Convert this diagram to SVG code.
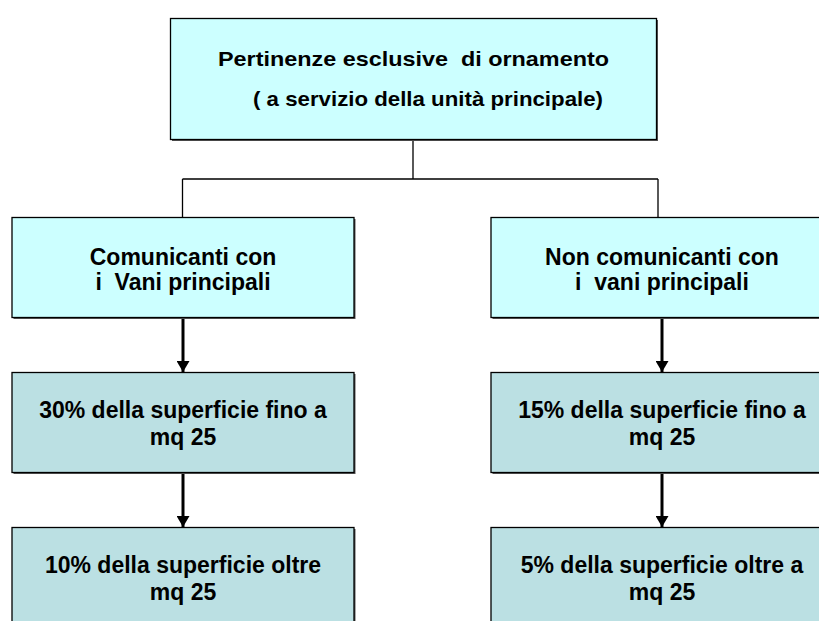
<svg xmlns="http://www.w3.org/2000/svg" width="819" height="621" viewBox="0 0 819 621">
<defs>
<style>
.box{stroke:#000;stroke-width:1.3}
.top{fill:#CCFFFF}
.low{fill:#BBE0E3}
.sh{fill:#555}
.t{font-family:"Liberation Sans",Arial,sans-serif;font-weight:bold;fill:#000;text-anchor:middle}
.t1{font-size:21px}
.t2{font-size:23px}
.ln{stroke:#000;stroke-width:1.3;fill:none}
.ar{stroke:#000;stroke-width:3;fill:none}
</style>
<marker id="ah" markerWidth="13" markerHeight="13" refX="11" refY="6.5" orient="auto" markerUnits="userSpaceOnUse">
<path d="M0,0 L11,6.5 L0,13 Z" fill="#000"/>
</marker>
</defs>
<rect width="819" height="621" fill="#fff"/>
<g id="connectors">
<path class="ln" d="M413,139 V179 M182.5,179 H658 M182.5,179 V217 M658,179 V217"/>
<path class="ar" d="M183,318 V372" marker-end="url(#ah)"/>
<path class="ar" d="M183,472 V527" marker-end="url(#ah)"/>
<path class="ar" d="M662,318 V372" marker-end="url(#ah)"/>
<path class="ar" d="M662,472 V527" marker-end="url(#ah)"/>
</g>
<g id="n-top">
<rect class="sh" x="172" y="20" width="486" height="121"/>
<rect class="box top" x="170.5" y="18.5" width="486" height="121"/>
<text class="t t1" x="413.5" y="66" textLength="391" lengthAdjust="spacingAndGlyphs" xml:space="preserve">Pertinenze esclusive  di ornamento</text>
<text class="t t1" x="428" y="106" textLength="350" lengthAdjust="spacingAndGlyphs">( a servizio della unità principale)</text>
</g>
<g id="n-comm">
<rect class="sh" x="13.5" y="219" width="342" height="100"/>
<rect class="box top" x="12" y="217.5" width="342" height="100"/>
<text class="t t2" x="183" y="265">Comunicanti con</text>
<text class="t t2" x="183" y="290" xml:space="preserve">i  Vani principali</text>
</g>
<g id="n-noncomm">
<rect class="sh" x="492.5" y="219" width="330" height="100"/>
<rect class="box top" x="491" y="217.5" width="332" height="100"/>
<text class="t t2" x="662" y="265">Non comunicanti con</text>
<text class="t t2" x="662" y="290" xml:space="preserve">i  vani principali</text>
</g>
<g id="n-30">
<rect class="sh" x="13.5" y="374" width="342" height="100"/>
<rect class="box low" x="12" y="372.5" width="342" height="100"/>
<text class="t t2" x="183" y="418">30% della superficie fino a</text>
<text class="t t2" x="183" y="445">mq 25</text>
</g>
<g id="n-15">
<rect class="sh" x="492.5" y="374" width="330" height="100"/>
<rect class="box low" x="491" y="372.5" width="332" height="100"/>
<text class="t t2" x="662" y="418">15% della superficie fino a</text>
<text class="t t2" x="662" y="445">mq 25</text>
</g>
<g id="n-10">
<rect class="sh" x="13.5" y="529" width="342" height="100"/>
<rect class="box low" x="12" y="527.5" width="342" height="100"/>
<text class="t t2" x="183" y="573">10% della superficie oltre</text>
<text class="t t2" x="183" y="600">mq 25</text>
</g>
<g id="n-5">
<rect class="sh" x="492.5" y="529" width="330" height="100"/>
<rect class="box low" x="491" y="527.5" width="332" height="100"/>
<text class="t t2" x="662" y="573">5% della superficie oltre a</text>
<text class="t t2" x="662" y="600">mq 25</text>
</g>
</svg>
